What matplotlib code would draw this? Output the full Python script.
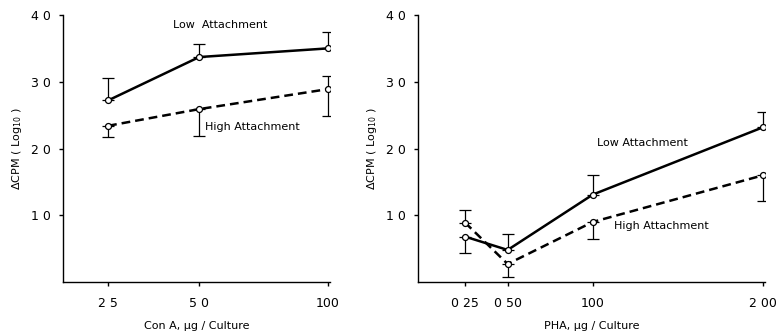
import numpy as np
import matplotlib
matplotlib.use("Agg")
import matplotlib.pyplot as plt

# ---- data (values in ΔCPM log10 units) ----
cona_dose = [2.5, 5.0, 10.0]
cona_ticklabels = ["2 5", "5 0", "100"]
cona_low = [2.72, 3.37, 3.50]
cona_low_err_lo = [0.0, 0.0, 0.0]
cona_low_err_hi = [0.34, 0.20, 0.25]
cona_high = [2.34, 2.59, 2.89]
cona_high_err_lo = [0.17, 0.41, 0.40]
cona_high_err_hi = [0.0, 0.0, 0.20]

pha_dose = [0.25, 0.50, 1.00, 2.00]
pha_ticklabels = ["0 25", "0 50", "100", "2 00"]
pha_low = [0.68, 0.48, 1.31, 2.32]
pha_low_err_lo = [0.24, 0.0, 0.0, 0.0]
pha_low_err_hi = [0.0, 0.24, 0.29, 0.23]
pha_high = [0.89, 0.27, 0.90, 1.60]
pha_high_err_lo = [0.0, 0.19, 0.26, 0.38]
pha_high_err_hi = [0.19, 0.0, 0.0, 0.0]

y_ticks = [1, 2, 3, 4]
y_ticklabels = ["1 0", "2 0", "3 0", "4 0"]

plt.rcParams["font.family"] = "DejaVu Sans"

fig = plt.figure(figsize=(7.76, 3.32), dpi=100)
ax1 = fig.add_axes([63 / 776, 1 - 282 / 332, 267 / 776, 267 / 332])
ax2 = fig.add_axes([418 / 776, 1 - 282 / 332, 347 / 776, 267 / 332])


def style_axis(ax):
    for side in ("top", "right"):
        ax.spines[side].set_visible(False)
    for side in ("left", "bottom"):
        ax.spines[side].set_linewidth(1.0)
    ax.tick_params(direction="out", length=3, width=1.0, labelsize=9, pad=6)
    ax.tick_params(axis="x", pad=8)
    ax.set_ylim(0, 4.0)
    ax.set_yticks(y_ticks)
    ax.set_yticklabels(y_ticklabels)
    ax.set_ylabel("ΔCPM ( Log$_{10}$ )", fontsize=8, labelpad=5)


def draw_series(ax, x, y, lo, hi, ls):
    ax.errorbar(x, y, yerr=[lo, hi], fmt="none", ecolor="black",
                elinewidth=0.9, capsize=4, capthick=0.9, zorder=2)
    ax.plot(x, y, color="black", linestyle=ls, linewidth=1.8,
            dashes=(3.5, 2) if ls == "--" else (None, None), zorder=3)
    ax.plot(x, y, "o", markersize=4.3, markerfacecolor="white",
            markeredgecolor="black", markeredgewidth=0.9, zorder=4)


# left panel: Con A (axis spacing follows a square-root scale)
ax1.set_xscale("function", functions=(np.sqrt, np.square))
draw_series(ax1, cona_dose, cona_low, cona_low_err_lo, cona_low_err_hi, "-")
draw_series(ax1, cona_dose, cona_high, cona_high_err_lo, cona_high_err_hi, "--")
style_axis(ax1)
ax1.set_xlim(1.58, 10.09)
ax1.set_xticks(cona_dose)
ax1.set_xticklabels(cona_ticklabels)
ax1.minorticks_off()
ax1.set_xlabel("Con A, μg / Culture", fontsize=8, labelpad=8)
ax1.text(0.412, 0.963, "Low  Attachment", transform=ax1.transAxes,
         fontsize=8, va="center", ha="left")
ax1.text(0.532, 0.581, "High Attachment", transform=ax1.transAxes,
         fontsize=8, va="center", ha="left")

# right panel: PHA (linear)
draw_series(ax2, pha_dose, pha_low, pha_low_err_lo, pha_low_err_hi, "-")
draw_series(ax2, pha_dose, pha_high, pha_high_err_lo, pha_high_err_hi, "--")
style_axis(ax2)
ax2.set_xlim(-0.026, 2.01)
ax2.set_xticks(pha_dose)
ax2.set_xticklabels(pha_ticklabels)
ax2.set_xlabel("PHA, μg / Culture", fontsize=8, labelpad=8)
ax2.text(0.516, 0.521, "Low Attachment", transform=ax2.transAxes,
         fontsize=8, va="center", ha="left")
ax2.text(0.565, 0.21, "High Attachment", transform=ax2.transAxes,
         fontsize=8, va="center", ha="left")

fig.savefig("out.png", dpi=100)
